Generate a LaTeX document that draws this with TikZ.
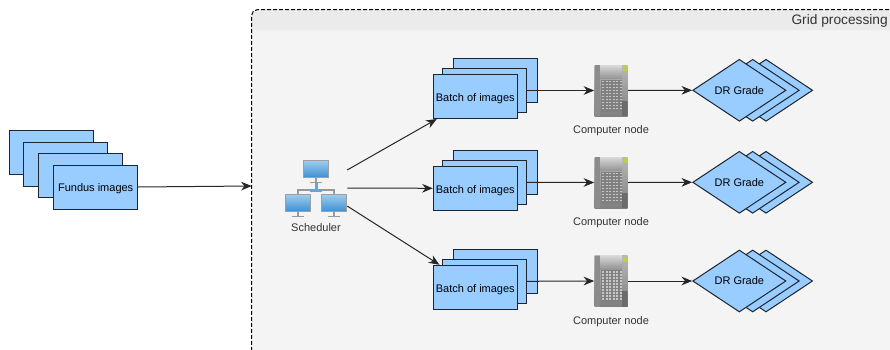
\documentclass[tikz,border=0pt]{standalone}
\usepackage{fontspec}
\setmainfont{Liberation Sans}
\usetikzlibrary{positioning, shapes.geometric, arrows.meta}
\definecolor{boxblue}{HTML}{99CCFF}
\definecolor{boxline}{HTML}{1C2530}
\definecolor{gridbody}{HTML}{F4F4F4}
\definecolor{gridband}{HTML}{EBEBEB}
\definecolor{screenlight}{HTML}{9CCDEE}
\definecolor{screendark}{HTML}{3F8FD2}
\definecolor{ledgreen}{HTML}{BFCF45}
% one screen of the scheduler icon, centre of the screen at #1,#2
\newcommand{\monitoricon}[2]{
  \draw[gray!80, line width=1.1pt] (#1,#2+9) -- (#1,#2+13) (#1-6,#2+13.5) -- (#1+6,#2+13.5);
  \shade[top color=screenlight, bottom color=screendark, draw=gray!75, line width=.75pt] (#1-12.5,#2-8.5) rectangle (#1+12.5,#2+8.5);
}
\tikzset{
  stackbox/.style={draw=boxline, fill=boxblue, line width=.75pt, minimum width=63pt, minimum height=33pt, inner sep=0pt, on grid, text height=7.2pt, text depth=0pt},
  gradebox/.style={diamond, draw=boxline, fill=boxblue, line width=.75pt, aspect=1.5, minimum width=70pt, minimum height=46.5pt, inner sep=0pt, on grid},
  caption/.style={inner sep=0pt, text=black!80},
  link/.style={-{Stealth[length=8pt, width=6.5pt]}, line width=.75pt, draw=black!85},
  computer/.style={minimum width=24.75pt, minimum height=38.25pt, inner sep=0pt, path picture={
    \begin{scope}[shift={(path picture bounding box.center)}]
      \shade[top color=black!28, bottom color=black!50] (-16.5,-25.5) rectangle (16.5,25.5);
      \fill[black!45] (-16.5,-25.5) rectangle (-11,25.5);
      \shade[top color=black!15, bottom color=black!42] (-11,-25.5) rectangle (11,-12);
      \fill[black!50] (-10,-11) rectangle (11,21);
      \foreach \rowy in {-10,-7,...,19} \foreach \colx in {-9,-5.5,...,9}
        \fill[black!22] (\colx,\rowy) rectangle +(2.2,1.8);
      \fill[black!58] (11,10) rectangle (16.5,25.5);
      \fill[ledgreen] (12,-24.5) rectangle (16.5,-19.5);
    \end{scope}}},
  scheduler/.style={minimum width=46.5pt, minimum height=42pt, inner sep=0pt, path picture={
    \begin{scope}[shift={(path picture bounding box.center)}]
      \draw[gray!80, line width=.9pt] (-18,6) -- (-18,2) -- (18,2) -- (18,6);
      \monitoricon{0}{-19}
      \monitoricon{-18}{15}
      \monitoricon{18}{15}
      \fill[screendark!80] (-6,0.5) rectangle (6,3.5);
      \fill[screendark!80] (-1.5,-6) rectangle (1.5,1);
    \end{scope}}}
}
\begin{document}
\begin{tikzpicture}[x=.75pt, y=-.75pt, every node/.style={font=\fontsize{8.25}{10}\selectfont}]
\clip (0,0) rectangle (890,350);
% grid panel
\node[minimum width=486pt, minimum height=264pt, inner sep=0pt, fill=gridbody, rounded corners=4pt] (grid) at (576,186) {};
\fill[gridband] (grid.west |- 0,30) [rounded corners=4pt] -- (grid.north west) [sharp corners] -- (890,10) -- (890,30) -- cycle;
\draw[black, dash pattern=on 3pt off 1.5pt, line width=.75pt, rounded corners=4pt] (grid.south west) rectangle (grid.north east);
\node[anchor=east, inner sep=0pt, text=black!80, font=\fontsize{10.3}{12}\selectfont] (gridtitle) at (888,21) {Grid processing};
% input stack
\node[stackbox] (fundus1) at (51,152) {};
\node[stackbox, below left=9pt and -10.5pt of fundus1] (fundus2) {};
\node[stackbox, below left=8.25pt and -11.25pt of fundus2] (fundus3) {};
\node[stackbox, below left=9pt and -11.75pt of fundus3] (fundus4) {Fundus images};
% scheduler
\node[scheduler] (sched) at (316,188) {};
\node[caption, below=5.5pt of sched] (schedtext) {Scheduler};
% batches
\node[stackbox] (batch1c) at (495.3,80.5) {};
\node[stackbox, below left=7.5pt and 8.25pt of batch1c] (batch1b) {};
\node[stackbox, below left=4.5pt and 6.75pt of batch1b] (batch1a) {Batch of images};
\node[stackbox] (batch2c) at (495.3,172.3) {};
\node[stackbox, below left=7.5pt and 8.25pt of batch2c] (batch2b) {};
\node[stackbox, below left=4.5pt and 6.75pt of batch2b] (batch2a) {Batch of images};
\node[stackbox] (batch3c) at (495.3,271.3) {};
\node[stackbox, below left=7.5pt and 8.25pt of batch3c] (batch3b) {};
\node[stackbox, below left=4.5pt and 6.75pt of batch3b] (batch3a) {Batch of images};
% computers
\node[computer] (comp1) at (611,90.5) {};
\node[caption, below=7pt of comp1] (comp1text) {Computer node};
\node[computer] (comp2) at (611,182.5) {};
\node[caption, below=7pt of comp2] (comp2text) {Computer node};
\node[computer] (comp3) at (611,281) {};
\node[caption, below=7pt of comp3] (comp3text) {Computer node};
% grades
\node[gradebox] (grade1c) at (766,90.3) {};
\node[gradebox, left=10pt of grade1c] (grade1b) {};
\node[gradebox, left=10pt of grade1b] (grade1a) {DR Grade};
\node[gradebox] (grade2c) at (766,182.3) {};
\node[gradebox, left=10pt of grade2c] (grade2b) {};
\node[gradebox, left=10pt of grade2b] (grade2a) {DR Grade};
\node[gradebox] (grade3c) at (766,281) {};
\node[gradebox, left=10pt of grade3c] (grade3b) {};
\node[gradebox, left=10pt of grade3b] (grade3a) {DR Grade};
% connectors
\draw[link] (fundus4.east) -- (grid.west);
\draw[link] (sched.30) -- ([xshift=3pt]batch1a.south west);
\draw[link] (sched.east) -- (batch2a.west);
\draw[link] (sched.-30) -- ([xshift=5pt]batch3a.north west);
\draw[link] (batch1b.east) -- (comp1.west);
\draw[link] (batch2b.east) -- (comp2.west);
\draw[link] (batch3b.east) -- (comp3.west);
\draw[link] (comp1.east) -- (grade1a.west);
\draw[link] (comp2.east) -- (grade2a.west);
\draw[link] (comp3.east) -- (grade3a.west);
\end{tikzpicture}
\end{document}
